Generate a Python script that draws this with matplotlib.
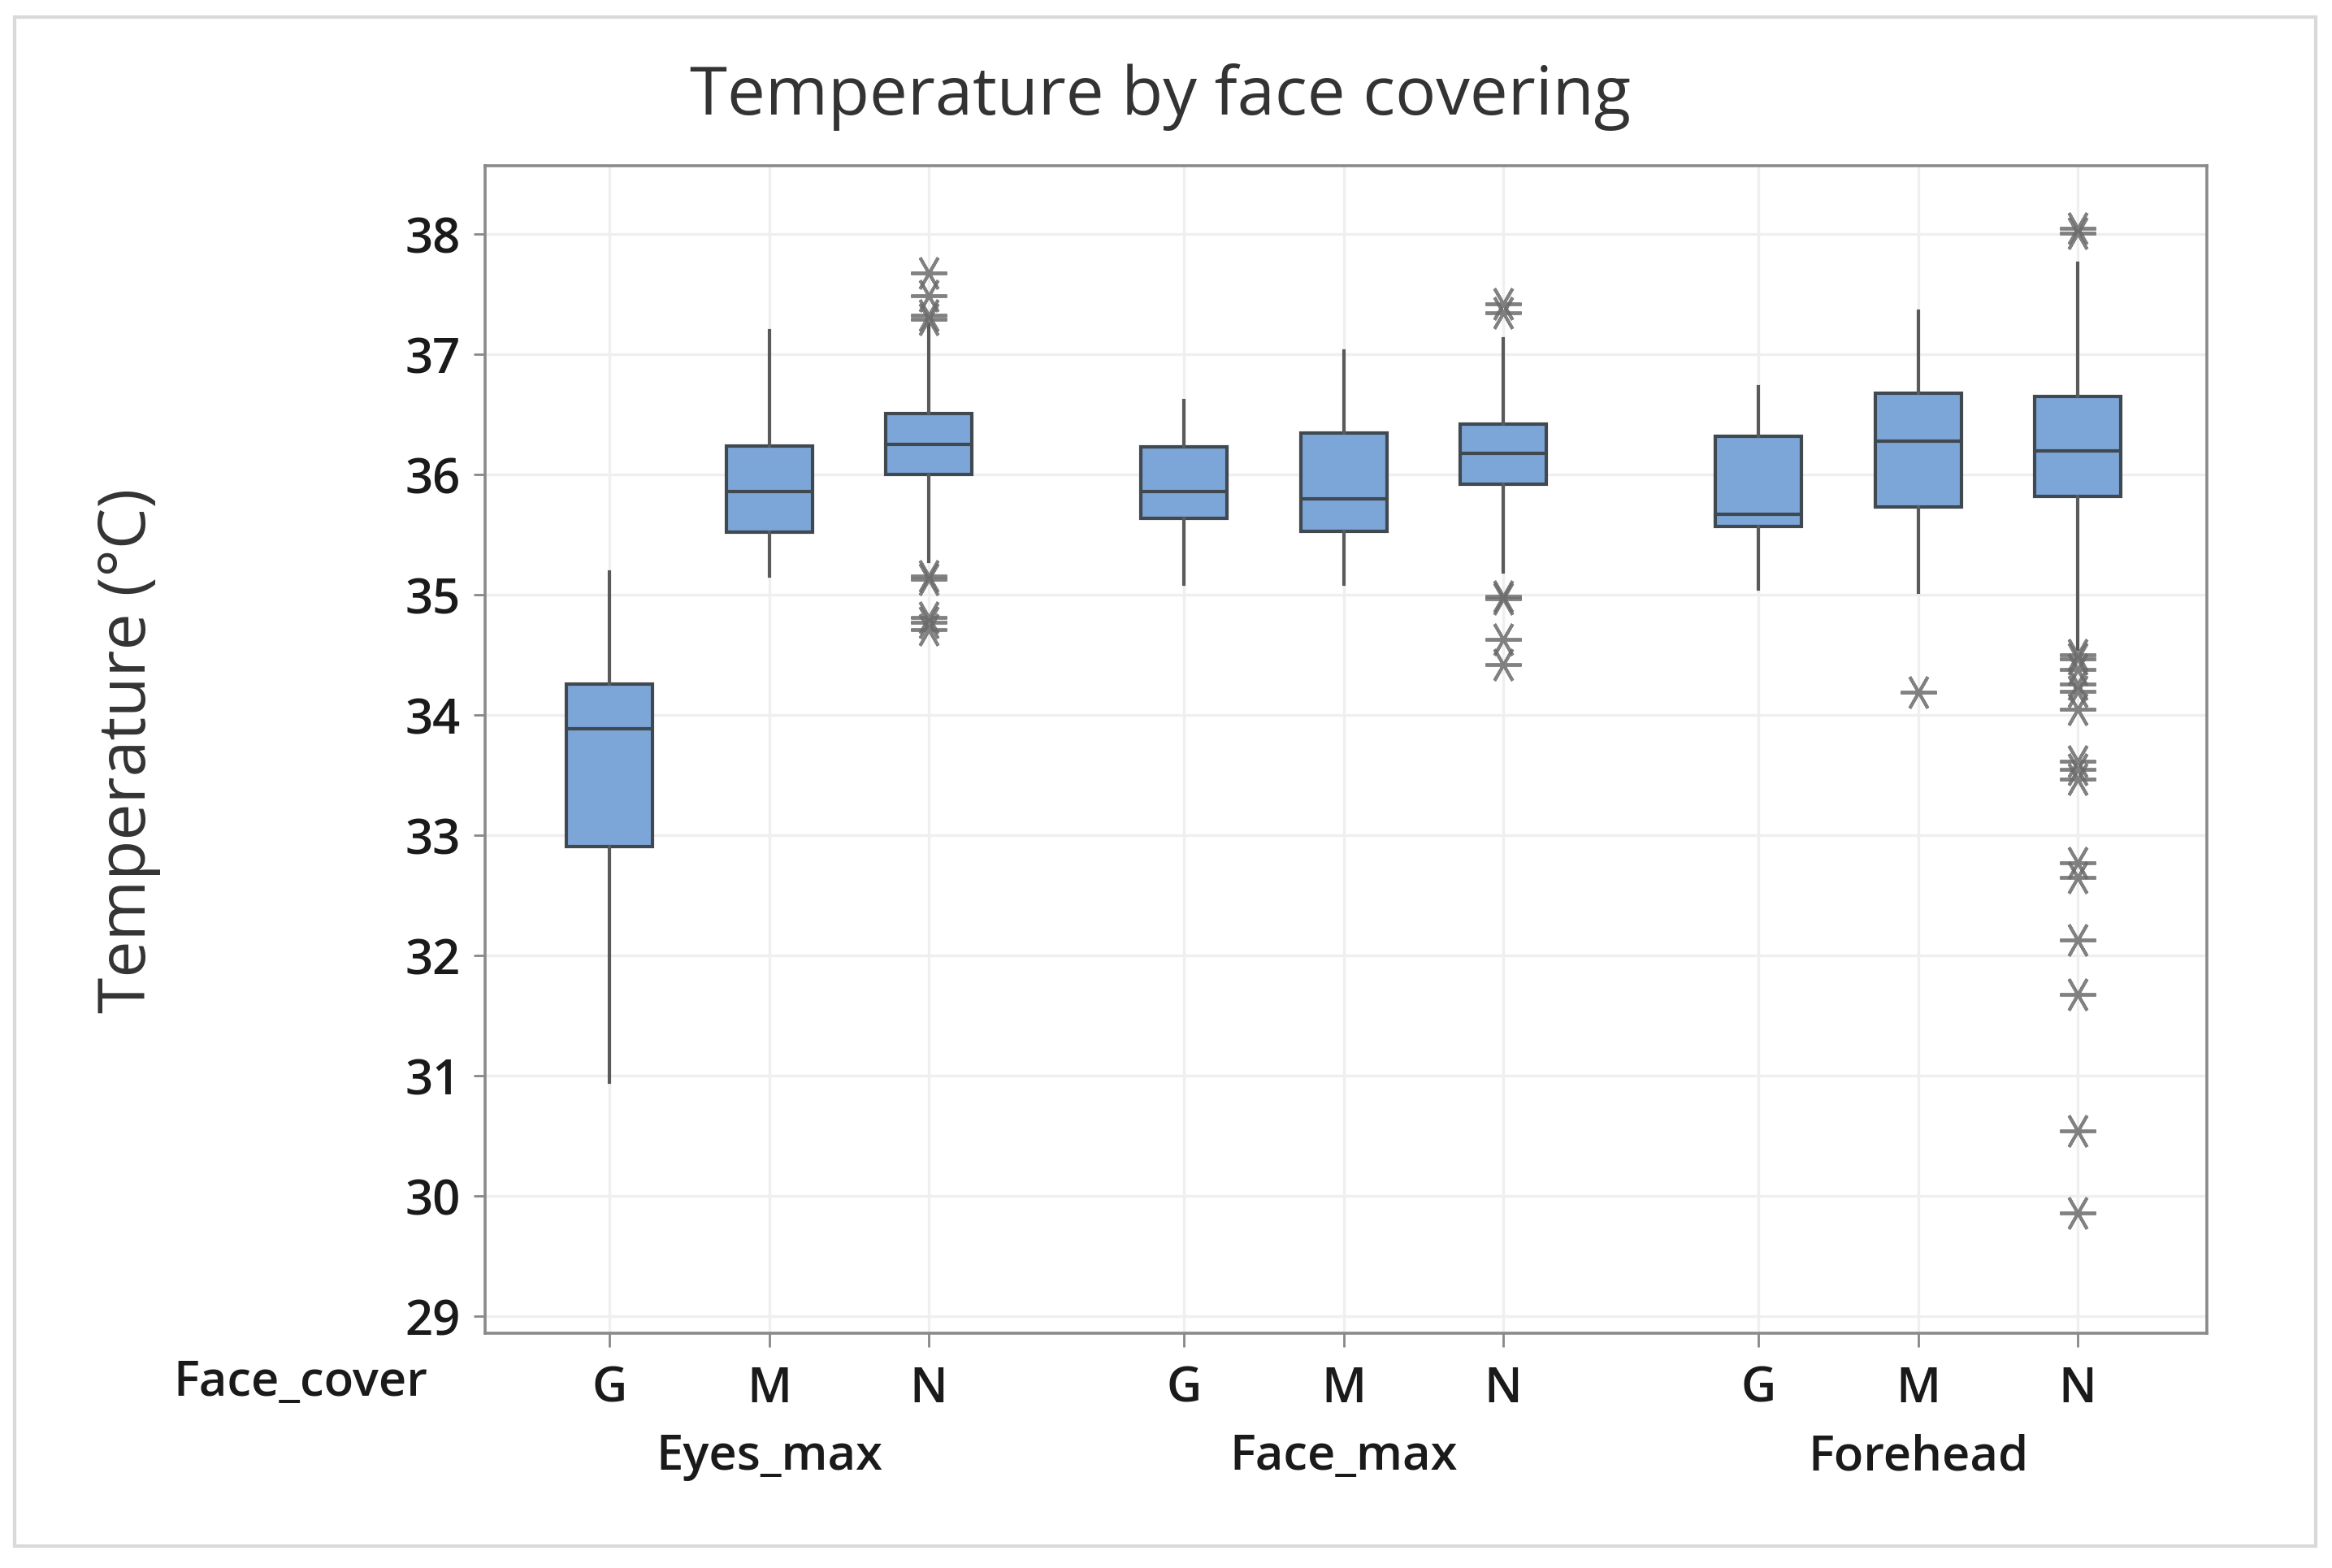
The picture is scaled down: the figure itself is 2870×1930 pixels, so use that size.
import matplotlib
matplotlib.use("Agg")
import matplotlib.pyplot as plt
from matplotlib.patches import Rectangle
from matplotlib.transforms import blended_transform_factory

plt.rcParams['font.family'] = ['Open Sans', 'DejaVu Sans']

# -----------------------------
# Data
# -----------------------------
groups = ["Eyes_max", "Face_max", "Forehead"]
covers = ["G", "M", "N"]

# order: Eyes G, M, N, Face G, M, N, Forehead G, M, N
whis_lo = [30.95, 35.16, 35.28, 35.09, 35.09, 35.19, 35.05, 35.02, 34.55]
q1 = [32.91, 35.52, 36.00, 35.64, 35.53, 35.92, 35.57, 35.73, 35.82]
median = [33.89, 35.86, 36.25, 35.86, 35.80, 36.18, 35.67, 36.28, 36.20]
q3 = [34.26, 36.24, 36.51, 36.23, 36.35, 36.42, 36.32, 36.68, 36.65]
whis_hi = [35.19, 37.20, 37.25, 36.62, 37.03, 37.13, 36.73, 37.36, 37.76]
outliers = [
    [],
    [],
    [37.68, 37.49, 37.33, 37.29, 35.16, 35.13, 34.81, 34.77, 34.71],
    [],
    [],
    [37.42, 37.35, 34.99, 34.97, 34.63, 34.42],
    [],
    [34.19],
    [38.05, 38.01, 34.50, 34.47, 34.38, 34.26, 34.20, 34.05,
     33.62, 33.55, 33.47, 32.77, 32.65, 32.13, 31.68, 30.54, 29.86],
]

# positions: three per group with a wider gap between groups
positions = []
for g in range(len(groups)):
    for c in range(len(covers)):
        positions.append(1 + g * 3.6 + c)

stats = []
for i in range(len(positions)):
    stats.append(dict(whislo=whis_lo[i], q1=q1[i], med=median[i], q3=q3[i],
                      whishi=whis_hi[i], fliers=outliers[i]))

fig = plt.figure(figsize=(14.35, 9.655), dpi=200)
ax = fig.add_axes([0.208, 0.1497, 0.7384, 0.7441])

# light frame around the whole graph
fig.patches.append(Rectangle((0.0064, 0.0142), 0.9866, 0.9744, transform=fig.transFigure,
                             fill=False, edgecolor="#d9d9d9", linewidth=1.5))

ax.grid(True, color="#efefef", linewidth=1.2, zorder=0)
ax.set_axisbelow(True)

ax.bxp(stats, positions=positions, widths=0.54, patch_artist=True, showcaps=False,
       boxprops=dict(facecolor="#7ca6d8", edgecolor="#404850", linewidth=1.5),
       medianprops=dict(color="#404850", linewidth=1.5),
       whiskerprops=dict(color="#5a5a5a", linewidth=1.5),
       flierprops=dict(marker=(6, 2, 90), markersize=16, markeredgecolor="#6b6b6b",
                       markerfacecolor="none", markeredgewidth=1.4, alpha=0.85))

ax.set_xlim(0.22, 11.01)
ax.set_ylim(28.86, 38.57)
ax.set_yticks(range(29, 39))
ax.set_xticks(positions)
ax.set_xticklabels(covers * len(groups))

for lab in ax.get_xticklabels() + ax.get_yticklabels():
    lab.set_fontsize(21.5)
    lab.set_fontweight("semibold")
    lab.set_color("#1a1a1a")
ax.tick_params(axis="x", length=6, width=1, color="#888888", pad=8)
ax.tick_params(axis="y", length=5, width=1, color="#888888", pad=6)

for sp in ax.spines.values():
    sp.set_color("#8a8a8a")
    sp.set_linewidth(1.3)

# group labels under the tick labels
trans = blended_transform_factory(ax.transData, fig.transFigure)
for g, name in enumerate(groups):
    ax.text(positions[g * 3 + 1], 0.071, name, transform=trans, ha="center", va="center",
            fontsize=21.5, fontweight="semibold", color="#1a1a1a")
fig.text(0.129, 0.1185, "Face_cover", ha="center", va="center",
         fontsize=21.5, fontweight="semibold", color="#1a1a1a")

fig.text(0.4976, 0.938, "Temperature by face covering", ha="center", va="center",
         fontsize=30, color="#333333")
fig.text(0.055, 0.5215, "Temperature (°C)", ha="center", va="center", rotation=90,
         fontsize=29, color="#333333")

fig.savefig("out.png", dpi=200)
